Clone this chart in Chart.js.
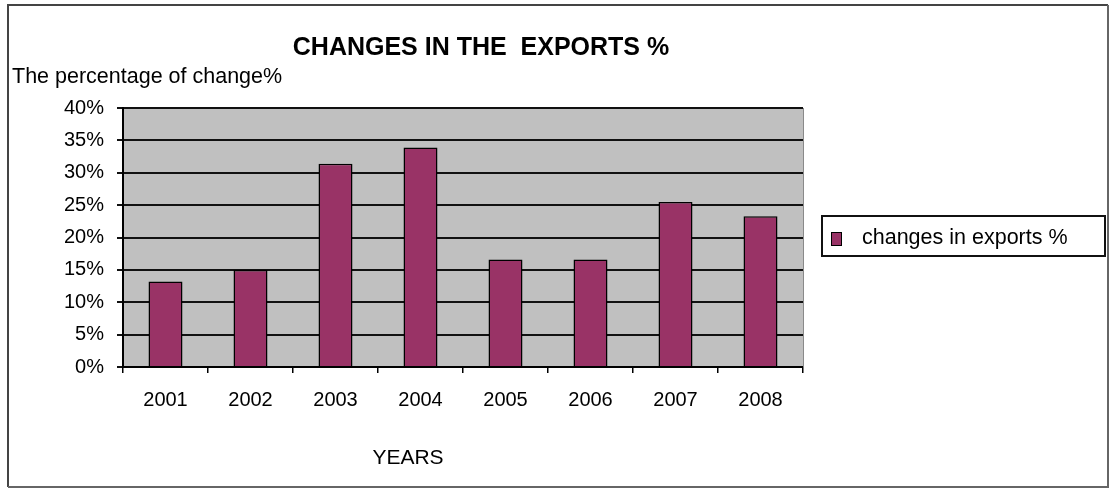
<!DOCTYPE html>
<html>
<head>
<meta charset="utf-8">
<script src="https://cdn.jsdelivr.net/npm/chart.js@4/dist/chart.umd.min.js"></script>
<style>
  html, body { margin: 0; padding: 0; background: #ffffff; }
  #wrap { position: relative; width: 1110px; height: 488px; }
</style>
</head>
<body>
<div id="wrap"><canvas id="c"></canvas></div>
<script>
const years = ['2001', '2002', '2003', '2004', '2005', '2006', '2007', '2008'];
const exportChanges = [13.2, 15.0, 31.4, 33.9, 16.6, 16.6, 25.5, 23.3];
const yTickValues = [0, 5, 10, 15, 20, 25, 30, 35, 40];
const chartTitle = 'CHANGES IN THE  EXPORTS %';
const yHeading = 'The percentage of change%';
const xHeading = 'YEARS';
const seriesLabel = 'changes in exports %';

const FONT = '"Liberation Sans", Arial, sans-serif';
const BAR = '#993366';

const decorPlugin = {
  id: 'decor',
  beforeDraw(chart) {
    const { ctx, chartArea: a } = chart;
    ctx.save();
    ctx.fillStyle = '#ffffff';
    ctx.fillRect(0, 0, chart.width, chart.height);
    ctx.fillStyle = '#c0c0c0';
    ctx.fillRect(a.left, a.top, a.right - a.left, a.bottom - a.top);
    ctx.restore();
  },
  afterDraw(chart) {
    const { ctx, chartArea: a } = chart;
    ctx.save();
    // right edge of plot
    ctx.strokeStyle = '#8a8a8a';
    ctx.lineWidth = 1;
    ctx.beginPath();
    ctx.moveTo(a.right + 0.5, a.top);
    ctx.lineTo(a.right + 0.5, a.bottom);
    ctx.stroke();
    // outer frame
    ctx.strokeStyle = '#444444';
    ctx.lineWidth = 2;
    ctx.beginPath();
    ctx.moveTo(8, 487);
    ctx.lineTo(8, 5);
    ctx.lineTo(1108, 5);
    ctx.stroke();
    ctx.strokeStyle = '#666666';
    ctx.beginPath();
    ctx.moveTo(1108, 5);
    ctx.lineTo(1108, 487);
    ctx.lineTo(8, 487);
    ctx.stroke();
    // title
    ctx.fillStyle = '#000000';
    ctx.textBaseline = 'middle';
    ctx.textAlign = 'center';
    ctx.font = 'bold 25px ' + FONT;
    ctx.fillText(chartTitle, 481, 48);
    // y heading
    ctx.textAlign = 'left';
    ctx.font = '21.5px ' + FONT;
    ctx.fillText(yHeading, 12, 77);
    // x heading
    ctx.textAlign = 'center';
    ctx.font = '21px ' + FONT;
    ctx.fillText(xHeading, 408, 458);
    // legend
    ctx.strokeStyle = '#111111';
    ctx.lineWidth = 2;
    ctx.strokeRect(822, 216, 283, 40);
    ctx.fillStyle = chart.data.datasets[0].backgroundColor;
    ctx.fillRect(831, 232, 10, 13);
    ctx.strokeStyle = '#000000';
    ctx.lineWidth = 1;
    ctx.strokeRect(831.5, 232.5, 10, 13);
    ctx.fillStyle = '#000000';
    ctx.textAlign = 'left';
    ctx.font = '21.5px ' + FONT;
    ctx.fillText(chart.data.datasets[0].label, 862, 238);
    ctx.restore();
  }
};

new Chart(document.getElementById('c'), {
  type: 'bar',
  data: {
    labels: years,
    datasets: [{
      label: seriesLabel,
      data: exportChanges,
      backgroundColor: BAR,
      borderColor: '#000000',
      borderWidth: 1.5,
      barPercentage: 0.5,
      categoryPercentage: 0.8
    }]
  },
  options: {
    responsive: true,
    maintainAspectRatio: false,
    animation: false,
    devicePixelRatio: 1,
    layout: { padding: { left: 0, top: 108, right: 307, bottom: 0 } },
    plugins: {
      legend: { display: false },
      title: { display: false },
      tooltip: { enabled: false }
    },
    scales: {
      x: {
        grid: {
          display: true,
          drawOnChartArea: false,
          drawTicks: true,
          tickLength: 6,
          color: '#000000',
          lineWidth: 1.5,
          offset: true
        },
        border: { display: true, color: '#000000', width: 2 },
        ticks: {
          color: '#000000',
          font: { family: FONT, size: 20 },
          padding: 15
        },
        title: { display: false },
        afterFit(scale) { scale.height = 121; }
      },
      y: {
        min: 0,
        max: 40,
        afterBuildTicks(scale) { scale.ticks = yTickValues.map(v => ({ value: v })); },
        grid: {
          color: '#111111',
          lineWidth: 2,
          tickLength: 6,
          drawTicks: true
        },
        border: { display: true, color: '#000000', width: 2 },
        ticks: {
          color: '#000000',
          font: { family: FONT, size: 20 },
          padding: 13,
          callback: v => v + '%'
        },
        afterFit(scale) { scale.width = 123; }
      }
    }
  },
  plugins: [decorPlugin]
});
</script>
</body>
</html>
